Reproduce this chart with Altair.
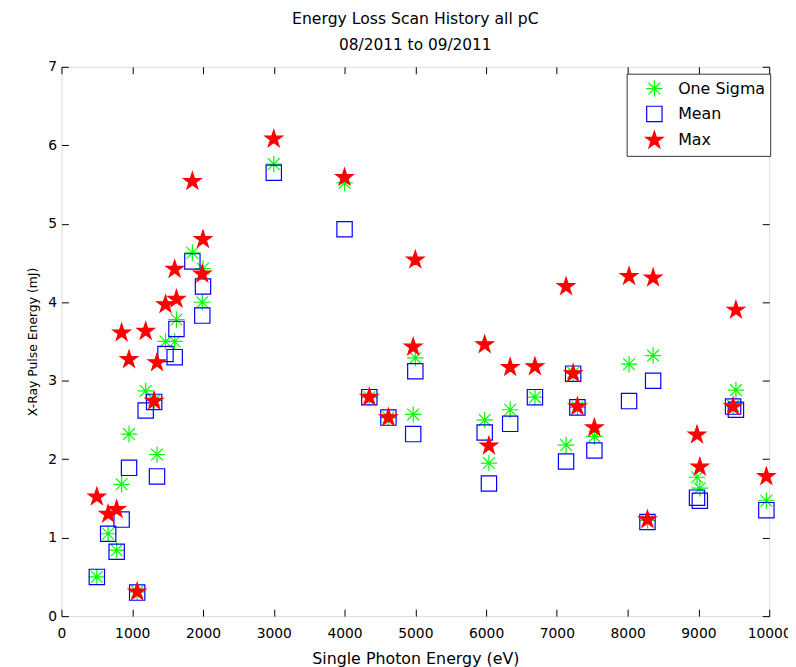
import altair as alt
import pandas as pd

# Single photon energy (eV) for each scan
photon_ev = [500, 660, 780, 850, 955, 1070, 1190, 1310, 1350, 1470, 1600, 1625,
             1850, 1990, 2000, 3000, 4000, 4350, 4620, 4970, 5000, 5980, 6040,
             6340, 6690, 7130, 7230, 7290, 7530, 8020, 8280, 8360, 8980, 9020,
             9490, 9530, 9960]
# X-ray pulse energy (mJ)
one_sigma = [0.50, 1.05, 0.84, 1.68, 2.32, 0.31, 2.87, 2.75, 2.06, 3.50, 3.50, 3.78,
             4.63, 4.00, 4.43, 5.76, 5.52, 2.79, 2.53, 2.57, 3.29, 2.50, 1.95,
             2.63, 2.79, 2.18, 3.10, 2.66, 2.29, 3.21, 1.22, 3.32, 1.77, 1.63,
             2.68, 2.88, 1.47]
mean_vals = [0.50, 1.05, 0.82, 1.23, 1.89, 0.30, 2.62, 2.73, 1.78, 3.34, 3.30, 3.66,
             4.52, 3.83, 4.20, 5.65, 4.93, 2.79, 2.53, 2.32, 3.12, 2.34, 1.69,
             2.45, 2.79, 1.97, 3.09, 2.66, 2.11, 2.74, 1.20, 3.00, 1.51, 1.47,
             2.67, 2.63, 1.35]
max_vals = [1.52, 1.30, 1.36, 3.61, 3.27, 0.31, 3.63, 2.74, 3.23, 3.97, 4.42, 4.04,
            5.54, 4.36, 4.80, 6.08, 5.59, 2.79, 2.53, 3.43, 4.54, 3.46, 2.17,
            3.17, 3.18, 4.20, 3.09, 2.67, 2.40, 4.33, 1.23, 4.31, 2.31, 1.90,
            2.67, 3.90, 1.78]

series_names = ["One Sigma", "Mean", "Max"]
series_colors = ["#00ff00", "#0000ff", "#ff0000"]
series_fills = ["transparent", "transparent", "#ff0000"]

ASTERISK = "M-0.9,0L0.9,0M0,-0.9L0,0.9M-0.64,-0.64L0.64,0.64M-0.64,0.64L0.64,-0.64"
SQUARE = "M-0.84,-0.84L0.84,-0.84L0.84,0.84L-0.84,0.84Z"
STAR = ("M0,-1L0.225,-0.309L0.951,-0.309L0.363,0.118L0.588,0.809L0,0.382"
        "L-0.588,0.809L-0.363,0.118L-0.951,-0.309L-0.225,-0.309Z")

rows = []
for k, (name, vals) in enumerate(zip(series_names, [one_sigma, mean_vals, max_vals])):
    for xv, yv in zip(photon_ev, vals):
        rows.append({"ev": xv, "mj": yv, "series": name, "draw": k})
df = pd.DataFrame(rows)

FONT = "DejaVu Sans"


def make_legend():
    return alt.Legend(
        title=None, orient="none", legendX=571, legendY=7, direction="vertical",
        strokeColor="#333333", fillColor="white", cornerRadius=0,
        padding=5, rowPadding=3.6, symbolOffset=13, symbolSize=340,
        symbolStrokeWidth=1.2, labelFont=FONT, labelFontSize=16, labelColor="black",
        labelOffset=14,
    )


x_scale = alt.Scale(domain=[0, 10000], nice=False, zero=False)
y_scale = alt.Scale(domain=[0, 7], nice=False, zero=False)

points = alt.Chart(df).mark_point(strokeWidth=1.2, opacity=1, size=340).encode(
    x=alt.X("ev:Q", scale=x_scale,
            axis=alt.Axis(title="Single Photon Energy (eV)", values=list(range(0, 10001, 1000)),
                          format="d", offset=-7, tickSize=7, domain=False, grid=False,
                          labelPadding=11, labelFontSize=14, labelFont=FONT,
                          labelColor="black", tickColor="black", labelFlush=False,
                          titleFont=FONT, titleFontSize=16, titleFontWeight="normal",
                          titleColor="black", titlePadding=10)),
    y=alt.Y("mj:Q", scale=y_scale,
            axis=alt.Axis(title="X-Ray Pulse Energy (mJ)", values=list(range(0, 8)),
                          offset=-7, tickSize=7, domain=False, grid=False,
                          labelPadding=5, labelFontSize=14, labelFont=FONT,
                          labelColor="black", tickColor="black", labelFlush=False,
                          titleFont=FONT, titleFontSize=12.5, titleFontWeight="normal",
                          titleColor="black", titlePadding=8)),
    shape=alt.Shape("series:N", legend=make_legend(),
                    scale=alt.Scale(domain=series_names, range=[ASTERISK, SQUARE, STAR])),
    stroke=alt.Stroke("series:N", legend=make_legend(),
                      scale=alt.Scale(domain=series_names, range=series_colors)),
    fill=alt.Fill("series:N", legend=make_legend(),
                  scale=alt.Scale(domain=series_names, range=series_fills)),
    order=alt.Order("draw:Q"),
)

frame = alt.Chart(df).mark_point(opacity=0).encode(
    x=alt.X("ev:Q", scale=x_scale,
            axis=alt.Axis(orient="top", title=None, labels=False, values=list(range(0, 10001, 1000)),
                          offset=-7, tickSize=7, domain=False, grid=False, tickColor="black")),
    y=alt.Y("mj:Q", scale=y_scale,
            axis=alt.Axis(orient="right", title=None, labels=False, values=list(range(0, 8)),
                          offset=-7, tickSize=7, domain=False, grid=False, tickColor="black")),
)

chart = alt.layer(points, frame).resolve_axis(
    x="independent", y="independent"
).properties(
    width=715,
    height=555,
    autosize=alt.AutoSizeParams(type="none"),
    padding={"left": 54, "top": 56, "right": 19, "bottom": 48},
    title=alt.TitleParams(
        text="Energy Loss Scan History all pC",
        subtitle="08/2011 to 09/2011",
        font=FONT, fontSize=15.8, fontWeight="normal", color="black",
        subtitleFont=FONT, subtitleFontSize=15.5, subtitleColor="black",
        subtitlePadding=11, anchor="middle", offset=5,
    ),
).configure_view(
    stroke="black", strokeWidth=1
).configure(background="white")

chart.save("out.html", embed_options={"renderer": "svg", "actions": False})
